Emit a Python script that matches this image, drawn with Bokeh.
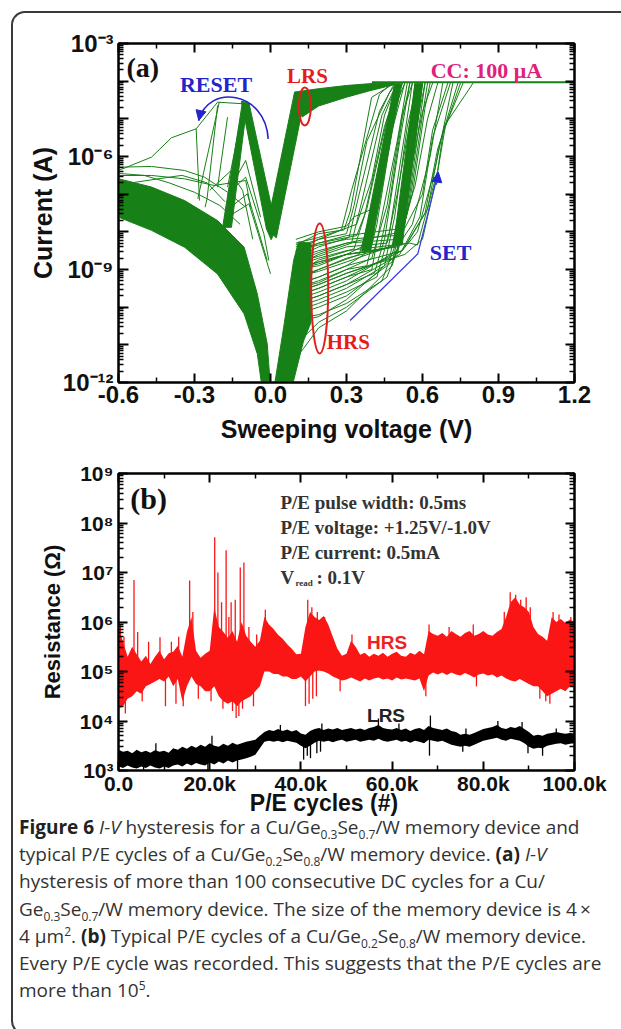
from bokeh.plotting import figure
from bokeh.models import (Range1d, FixedTicker, CustomJSTickFormatter, LinearAxis,
                          LogAxis, Div, Arrow, NormalHead)
from bokeh.layouts import column
from bokeh.core.properties import value
from bokeh.embed import file_html
from bokeh.resources import INLINE

# ====================== (a) I-V hysteresis ======================
# voltages in V, currents given as log10(I / A)
v_ticks = [-0.6, -0.3, 0.0, 0.3, 0.6, 0.9, 1.2]
v_minor = [-0.45, -0.15, 0.15, 0.45, 0.75, 1.05]
i_decades = list(range(-12, -2))

# dense HRS branch at negative bias
hrs_neg_upper_v = [-0.6, -0.47, -0.339, -0.209, -0.104, -0.052, -0.013, 0.002]
hrs_neg_upper_e = [-6.59, -6.81, -7.17, -7.70, -8.41, -9.65, -10.97, -12.3]
hrs_neg_lower_v = [-0.6, -0.47, -0.339, -0.209, -0.104, -0.052, -0.030]
hrs_neg_lower_e = [-7.61, -7.96, -8.41, -9.12, -10.18, -11.24, -12.3]

# RESET drop, LRS negative and LRS positive ribbons
reset_arm_v = [-0.189, -0.154, -0.094, -0.110]
reset_arm_e = [-7.88, -7.88, -4.69, -4.53]
lrs_neg_arm_v = [-0.115, -0.085, 0.023, 0.0025, -0.016]
lrs_neg_arm_e = [-4.53, -4.58, -7.92, -8.21, -7.92]
lrs_pos_arm_v = [-0.016, 0.095, 0.130, 0.125, 0.023]
lrs_pos_arm_e = [-7.92, -4.29, -4.38, -4.78, -8.16]
lrs_band_upper_v = [0.095, 0.19, 0.30, 0.386, 0.49]
lrs_band_upper_e = [-4.29, -4.20, -4.115, -4.07, -4.03]
lrs_band_lower_v = [0.49, 0.386, 0.30, 0.19, 0.125]
lrs_band_lower_e = [-4.09, -4.265, -4.425, -4.66, -4.95]

# dense HRS start at positive bias
hrs_pos_v = [0.0104, 0.0782, 0.1303, 0.160, 0.160, 0.1108, 0.0912, 0.0521]
hrs_pos_e = [-12.3, -12.3, -10.9, -10.4, -8.3, -8.27, -8.76, -10.53]

# dense SET ribbons
set_core1_v = [0.36, 0.395, 0.515, 0.49]
set_core1_e = [-8.5, -8.5, -4.07, -4.07]
set_core2_v = [0.485, 0.52, 0.60, 0.57]
set_core2_e = [-8.35, -8.35, -4.07, -4.07]

# compliance
cc_v = [0.40, 1.2]
cc_e = [-4.03, -4.03]

# individual SET sweeps
set_v = [
    [0.10, 0.19, 0.29, 0.315, 0.399, 0.49],
    [0.10, 0.19, 0.30, 0.33, 0.38, 0.47, 0.50],
    [0.10, 0.19, 0.31, 0.35, 0.43, 0.49],
    [0.10, 0.19, 0.32, 0.36, 0.44, 0.50],
    [0.10, 0.19, 0.33, 0.37, 0.45, 0.51],
    [0.10, 0.19, 0.34, 0.38, 0.46, 0.51],
    [0.10, 0.19, 0.35, 0.40, 0.47, 0.52],
    [0.10, 0.19, 0.30, 0.36, 0.42, 0.48, 0.52],
    [0.10, 0.19, 0.30, 0.34, 0.40, 0.45, 0.50],
    [0.10, 0.19, 0.30, 0.37, 0.43, 0.49, 0.53],
    [0.10, 0.19, 0.30, 0.38, 0.42, 0.48, 0.53],
    [0.10, 0.19, 0.30, 0.40, 0.43, 0.50, 0.54],
    [0.10, 0.19, 0.30, 0.41, 0.45, 0.51, 0.55],
    [0.10, 0.19, 0.30, 0.42, 0.47, 0.53, 0.56],
    [0.10, 0.19, 0.30, 0.44, 0.49, 0.55, 0.57],
    [0.08, 0.13, 0.19, 0.30, 0.46, 0.51, 0.56, 0.58],
    [0.07, 0.13, 0.19, 0.30, 0.48, 0.52, 0.57, 0.59],
    [0.10, 0.19, 0.30, 0.50, 0.53, 0.58, 0.60],
    [0.10, 0.19, 0.30, 0.50, 0.54, 0.59, 0.61],
    [0.10, 0.19, 0.30, 0.51, 0.55, 0.60, 0.62],
    [0.10, 0.19, 0.30, 0.52, 0.56, 0.61, 0.63],
    [0.10, 0.19, 0.30, 0.45, 0.49, 0.54, 0.58],
    [0.10, 0.19, 0.30, 0.47, 0.51, 0.56, 0.60],
    [0.10, 0.19, 0.30, 0.43, 0.47, 0.52, 0.55],
    [0.10, 0.19, 0.30, 0.46, 0.50, 0.55, 0.59],
    [0.10, 0.19, 0.30, 0.48, 0.52, 0.57, 0.61],
    [0.10, 0.19, 0.30, 0.40, 0.46, 0.52, 0.56],
    [0.10, 0.19, 0.30, 0.49, 0.53, 0.57, 0.60],
    [0.10, 0.19, 0.30, 0.50, 0.56, 0.63, 0.68],
    [0.10, 0.19, 0.30, 0.52, 0.58, 0.65, 0.72],
    [0.10, 0.19, 0.30, 0.53, 0.60, 0.66, 0.69, 0.76],
    [0.10, 0.19, 0.30, 0.55, 0.58, 0.66, 0.685, 0.80],
    [0.10, 0.19, 0.30, 0.54, 0.62, 0.67, 0.74],
    [0.10, 0.19, 0.30, 0.53, 0.60, 0.64, 0.70],
    [0.10, 0.19, 0.30, 0.50, 0.57, 0.62, 0.66],
    [0.10, 0.19, 0.30, 0.48, 0.55, 0.60, 0.64],
    [0.10, 0.19, 0.30, 0.51, 0.59, 0.64, 0.71],
    [0.10, 0.19, 0.30, 0.52, 0.61, 0.66, 0.75],
    [0.10, 0.19, 0.30, 0.33, 0.40, 0.45, 0.52],
    [0.10, 0.19, 0.28, 0.32, 0.43, 0.48],
]
set_e = [
    [-8.35, -8.05, -7.95, -7.45, -4.43, -4.05],
    [-8.5, -8.2, -8.05, -7.3, -5.6, -4.3, -4.05],
    [-8.7, -8.4, -8.15, -7.0, -4.8, -4.05],
    [-8.9, -8.6, -8.3, -7.2, -4.9, -4.05],
    [-9.1, -8.75, -8.45, -7.6, -5.2, -4.05],
    [-8.6, -8.3, -8.1, -7.4, -5.0, -4.05],
    [-9.3, -9.0, -8.6, -7.5, -5.0, -4.05],
    [-9.0, -8.9, -8.6, -8.4, -6.8, -4.6, -4.05],
    [-8.3, -8.15, -7.9, -7.8, -6.6, -4.9, -4.05],
    [-9.4, -9.2, -8.9, -8.6, -6.9, -4.7, -4.05],
    [-9.5, -9.3, -9.0, -8.9, -7.8, -5.3, -4.05],
    [-9.7, -9.5, -9.2, -9.0, -7.9, -5.6, -4.05],
    [-9.9, -9.7, -9.4, -9.1, -8.2, -5.6, -4.05],
    [-10.1, -9.9, -9.6, -9.2, -8.0, -5.4, -4.05],
    [-10.3, -10.2, -9.9, -9.3, -8.4, -5.5, -4.05],
    [-11.2, -10.8, -10.4, -10.0, -9.2, -8.3, -5.8, -4.05],
    [-11.6, -11.1, -10.55, -10.1, -8.9, -8.0, -5.5, -4.05],
    [-10.4, -10.25, -9.8, -8.6, -7.8, -5.2, -4.05],
    [-9.8, -9.6, -9.3, -8.5, -7.5, -5.0, -4.05],
    [-9.2, -9.05, -8.8, -8.3, -7.2, -4.9, -4.05],
    [-8.7, -8.5, -8.3, -8.0, -7.0, -4.7, -4.05],
    [-10.0, -9.8, -9.5, -8.9, -7.6, -5.2, -4.05],
    [-9.6, -9.4, -9.1, -8.7, -7.4, -5.0, -4.05],
    [-9.0, -8.85, -8.6, -8.5, -7.2, -5.0, -4.05],
    [-8.8, -8.65, -8.4, -8.3, -7.0, -5.1, -4.05],
    [-10.2, -10.0, -9.7, -8.8, -7.7, -5.4, -4.05],
    [-9.5, -9.35, -9.0, -8.7, -7.3, -4.9, -4.05],
    [-8.5, -8.35, -8.2, -8.1, -6.5, -4.8, -4.05],
    [-9.0, -8.8, -8.6, -8.4, -7.8, -6.0, -4.05],
    [-9.4, -9.2, -8.9, -8.5, -8.0, -6.3, -4.05],
    [-9.6, -9.4, -9.1, -8.6, -8.2, -6.4, -5.2, -4.05],
    [-8.9, -8.7, -8.5, -8.3, -8.35, -6.37, -5.2, -4.05],
    [-9.2, -9.0, -8.7, -8.3, -7.4, -5.6, -4.05],
    [-8.5, -8.3, -8.1, -7.9, -7.0, -5.3, -4.05],
    [-8.8, -8.55, -8.3, -8.2, -6.8, -5.0, -4.05],
    [-9.0, -8.8, -8.6, -8.4, -6.5, -4.8, -4.05],
    [-9.9, -9.7, -9.4, -8.6, -7.6, -5.5, -4.05],
    [-9.7, -9.5, -9.2, -8.5, -7.5, -5.8, -4.05],
    [-8.2, -8.0, -7.85, -7.6, -7.4, -6.2, -4.05],
    [-8.4, -8.2, -7.95, -6.9, -4.35, -4.05],
]

# individual stray RESET sweeps
reset_v = [
    [-0.6, -0.4696, -0.3913, -0.2935, -0.2805],
    [-0.2935, -0.2088],
    [-0.2088, -0.1044],
    [-0.2022, -0.287],
    [-0.2088, -0.2505, -0.2583],
    [-0.1696, -0.2088],
    [-0.6, -0.4696, -0.3392, -0.2609, -0.1696, -0.0979],
    [-0.6, -0.4696, -0.3392, -0.2218, -0.0979, -0.0783],
    [-0.1696, -0.0979, -0.0262, -0.0066],
    [-0.1566, -0.0914, -0.0131],
    [-0.1696, -0.0849, 0.0],
    [-0.1566, -0.0979, -0.0392],
    [-0.1044, -0.1696],
    [-0.6, -0.5, -0.4, -0.3, -0.2, -0.12],
    [-0.6, -0.45, -0.35, -0.25, -0.18],
    [-0.24, -0.16, -0.11, -0.07],
]
reset_e = [
    [-6.371, -6.017, -5.504, -5.265, -7.168],
    [-5.265, -4.557],
    [-4.557, -4.602],
    [-4.557, -7.124],
    [-4.646, -7.124, -7.345],
    [-4.955, -6.814],
    [-6.283, -6.265, -6.371, -6.548, -6.947, -7.345],
    [-6.504, -6.504, -6.593, -6.77, -6.637, -7.345],
    [-6.991, -6.548, -8.053, -8.761],
    [-7.345, -6.991, -8.761],
    [-7.61, -7.257, -9.115],
    [-6.814, -6.106, -7.61],
    [-4.602, -6.814],
    [-6.45, -6.5, -6.7, -6.95, -7.3, -7.8],
    [-6.75, -6.6, -6.5, -6.7, -7.2],
    [-6.9, -6.4, -6.9, -8.2],
]

# annotation guides
reset_arc = dict(v0=-0.0092, e0=-5.531, cv0=-0.0196, ce0=-4.248, cv1=-0.2479, ce1=-4.071, v1=-0.2831, e1=-5.044)
set_arrow_v = [0.3142, 0.5815, 0.6624]
set_arrow_e = [-10.354, -8.584, -6.416]
ellipse_v = [0.1355, 0.1942]
ellipse_e = [-4.672, -9.504]
ellipse_w = [12, 17]
ellipse_h = [38, 130]

# ====================== (b) P/E endurance ======================
cycles_k = list(range(0, 101))
hrs_hi = [5.9, 5.6, 5.3, 5.5, 5.35, 5.2, 5.32, 5.15, 5.3, 5.42,
          5.25, 5.37, 5.4, 5.52, 5.3, 5.8, 6.1, 5.42, 5.28, 5.36,
          5.42, 6.3, 5.9, 5.8, 5.68, 5.82, 5.6, 6.0, 5.72, 5.6,
          5.5, 5.62, 6.1, 5.95, 5.86, 5.74, 5.66, 5.55, 5.46, 5.35,
          5.36, 5.9, 6.2, 6.1, 6.04, 6.12, 5.95, 5.7, 5.46, 5.32,
          5.36, 5.62, 5.5, 5.34, 5.38, 5.3, 5.36, 5.32, 5.38, 5.3,
          5.36, 5.4, 5.32, 5.3, 5.38, 5.34, 5.42, 5.35, 5.82, 5.76,
          5.72, 5.78, 5.7, 5.82, 5.76, 5.7, 5.78, 5.82, 5.72, 5.76,
          5.82, 5.75, 5.72, 5.8, 5.86, 6.1, 6.4, 6.5, 6.35, 6.3,
          6.2, 5.9, 5.76, 5.7, 5.62, 6.1, 6.0, 6.06, 5.98, 6.05,
          6.0]
hrs_lo = [4.25, 4.3, 4.45, 4.5, 4.6, 4.55, 4.7, 4.75, 4.8, 4.85,
          4.8, 4.9, 4.7, 4.85, 4.4, 4.7, 4.9, 4.75, 4.7, 4.6,
          4.6, 4.7, 4.5, 4.4, 4.35, 4.4, 4.3, 4.4, 4.45, 4.5,
          4.6, 4.7, 5.0, 5.0, 4.95, 4.95, 4.9, 4.9, 4.85, 4.85,
          4.9, 4.8, 4.9, 5.0, 5.02, 5.0, 4.96, 4.9, 4.86, 4.82,
          4.84, 4.88, 4.84, 4.8, 4.86, 4.82, 4.86, 4.88, 4.84, 4.86,
          4.82, 4.88, 4.84, 4.86, 4.84, 4.82, 4.86, 4.6, 4.92, 4.98,
          4.94, 4.98, 4.93, 4.98, 4.94, 4.92, 4.97, 4.93, 4.88, 4.94,
          4.96, 4.92, 4.94, 4.88, 4.92, 4.86, 4.82, 4.8, 4.85, 4.8,
          4.75, 4.7, 4.7, 4.6, 4.5, 4.55, 4.6, 4.65, 4.6, 4.7,
          4.7]
hrs_up_k = [0.4, 1.2, 3.4, 4.2, 6.6, 9.1, 11.6, 13.2, 15.6, 16.3, 21.1, 21.8, 22.6, 23.6,
            24.2, 24.7, 25.6, 26.7, 27.5, 28.6, 30.3, 32.2, 41.5, 42.4, 43.6, 45.2, 51.2,
            68.1, 72.5, 77.8, 84.6, 85.9, 87.1, 88.2, 89.4, 90.3, 95.3, 96.6, 99.2]
hrs_up_top = [5.95, 5.7, 6.85, 5.8, 5.6, 5.69, 5.6, 5.7, 6.84, 6.2, 7.71, 7.0, 6.4, 7.45,
              6.1, 6.4, 6.45, 7.1, 7.2, 5.9, 5.75, 6.25, 6.45, 6.3, 6.2, 6.1, 5.75,
              5.95, 5.9, 5.95, 6.2, 6.6, 6.55, 6.45, 6.5, 6.3, 6.2, 6.15, 6.1]
hrs_dn_k = [1.5, 5.2, 10.3, 12.6, 14.2, 17.5, 20.3, 22.9, 25.0, 25.8, 26.4, 27.2, 29.6,
            41.0, 41.8, 42.6, 43.4, 48.6, 67.4, 78.5, 92.4, 93.7, 94.6]
hrs_dn_bot = [4.15, 4.4, 4.3, 4.35, 4.3, 4.45, 4.4, 4.25, 4.2, 4.06, 4.1, 4.25, 4.3,
              4.3, 4.35, 4.45, 4.5, 4.6, 4.5, 4.7, 4.45, 4.4, 4.35]

lrs_hi = [3.42, 3.38, 3.4, 3.35, 3.42, 3.37, 3.4, 3.36, 3.41, 3.38,
          3.4, 3.36, 3.45, 3.42, 3.48, 3.44, 3.5, 3.46, 3.52, 3.48,
          3.55, 3.5, 3.48, 3.54, 3.5, 3.56, 3.52, 3.55, 3.58, 3.6,
          3.62, 3.7, 3.78, 3.82, 3.8, 3.84, 3.8, 3.83, 3.79, 3.82,
          3.75, 3.72, 3.8, 3.84, 3.86, 3.82, 3.85, 3.83, 3.86, 3.82,
          3.84, 3.86, 3.83, 3.85, 3.82, 3.86, 3.88, 3.92, 3.86, 3.84,
          3.83, 3.86, 3.82, 3.85, 3.8, 3.84, 3.86, 3.82, 3.9, 3.86,
          3.84, 3.82, 3.85, 3.8, 3.78, 3.72, 3.74, 3.72, 3.76, 3.8,
          3.84, 3.86, 3.88, 3.92, 3.86, 3.84, 3.88, 3.86, 3.9, 3.84,
          3.78, 3.7, 3.72, 3.7, 3.74, 3.76, 3.78, 3.76, 3.74, 3.76,
          3.75]
lrs_lo = [3.08, 3.05, 3.1, 3.06, 3.04, 3.08, 3.05, 3.1, 3.06, 3.04,
          3.08, 3.05, 3.1, 3.12, 3.08, 3.14, 3.1, 3.15, 3.12, 3.1,
          3.16, 3.12, 3.18, 3.14, 3.2, 3.16, 3.2, 3.22, 3.25, 3.28,
          3.32, 3.45, 3.58, 3.6, 3.58, 3.6, 3.57, 3.6, 3.58, 3.56,
          3.5, 3.45, 3.5, 3.56, 3.6, 3.58, 3.6, 3.57, 3.6, 3.62,
          3.58, 3.6, 3.62, 3.58, 3.6, 3.62, 3.6, 3.64, 3.6, 3.58,
          3.6, 3.62, 3.58, 3.6, 3.56, 3.6, 3.58, 3.55, 3.62, 3.6,
          3.58, 3.6, 3.56, 3.52, 3.5, 3.48, 3.5, 3.48, 3.52, 3.56,
          3.6, 3.62, 3.64, 3.66, 3.62, 3.6, 3.64, 3.62, 3.6, 3.55,
          3.48, 3.44, 3.46, 3.45, 3.5, 3.52, 3.54, 3.55, 3.52, 3.54,
          3.55]
lrs_up_k = [8.2, 20.5, 35.5, 44.6, 57.0, 61.5, 68.4, 76.2, 83.2, 88.5, 96.0]
lrs_up_top = [3.55, 3.7, 3.92, 3.95, 4.05, 3.95, 4.11, 3.85, 4.0, 3.98, 3.85]
lrs_dn_k = [5.5, 19.6, 26.1, 40.6, 41.4, 42.1, 43.5, 44.3, 68.2, 75.5, 89.8, 93.0]
lrs_dn_bot = [2.98, 3.0, 3.02, 3.22, 3.3, 3.25, 3.35, 3.38, 3.3, 3.38, 3.35, 3.3]

b_x_ticks = [0, 20000, 40000, 60000, 80000, 100000]
b_x_minor = [10000, 30000, 50000, 70000, 90000]
b_x_labels = ["0.0", "20.0k", "40.0k", "60.0k", "80.0k", "100.0k"]
r_decades = list(range(3, 10))

pe_text = ["P/E pulse width: 0.5ms", "P/E voltage: +1.25V/-1.0V", "P/E current: 0.5mA"]
pe_text_e = [8.414, 7.909, 7.404]
vread_e = 6.899

caption_lines = [
    "<b>Figure 6</b> <i>I-V</i> hysteresis for a Cu/Ge<sub>0.3</sub>Se<sub>0.7</sub>/W memory device and",
    "typical P/E cycles of a Cu/Ge<sub>0.2</sub>Se<sub>0.8</sub>/W memory device. <b>(a)</b> <i>I-V</i>",
    "hysteresis of more than 100 consecutive DC cycles for a Cu/",
    "Ge<sub>0.3</sub>Se<sub>0.7</sub>/W memory device. The size of the memory device is 4\u2009\u00d7",
    "4 \u00b5m<sup>2</sup>. <b>(b)</b> Typical P/E cycles of a Cu/Ge<sub>0.2</sub>Se<sub>0.8</sub>/W memory device.",
    "Every P/E cycle was recorded. This suggests that the P/E cycles are",
    "more than 10<sup>5</sup>.",
]

# ====================== helpers ======================
GREEN = "#178017"
BLUE = "#2424cc"
RED = "#e31c1c"
MAGENTA = "#e0207c"
BRED = "#fb1616"
SANS = "Liberation Sans"
SERIF = "Liberation Serif"


def pw(es):
    return [10.0 ** e for e in es]


SUP_JS = """
const m = {"-":"\\u207b","0":"\\u2070","1":"\\u00b9","2":"\\u00b2","3":"\\u00b3","4":"\\u2074",
           "5":"\\u2075","6":"\\u2076","7":"\\u2077","8":"\\u2078","9":"\\u2079"};
const e = Math.round(Math.log10(tick));
if ((((e % STEP) + STEP) % STEP) != 0) { return ""; }
return "10" + String(e).split("").map(c => m[c]).join("");
"""


def style_axis(ax, size, tick_in=9, minor_in=5):
    ax.axis_line_width = 2
    ax.axis_line_color = "black"
    ax.major_tick_in = tick_in
    ax.major_tick_out = 0
    ax.minor_tick_in = minor_in
    ax.minor_tick_out = 0
    ax.major_tick_line_width = 2
    ax.minor_tick_line_width = 1.5
    ax.major_label_text_font = SANS
    ax.major_label_text_font_style = "bold"
    ax.major_label_text_font_size = size
    ax.major_label_text_color = "#111111"
    ax.axis_label_text_font = SANS
    ax.axis_label_text_font_style = "bold"
    ax.axis_label_text_color = "#111111"


def mirror(p, ticker, kind, side):
    ax = kind(ticker=ticker, formatter=CustomJSTickFormatter(code="return '';"))
    style_axis(ax, "0px")
    ax.major_label_standoff = 0
    p.add_layout(ax, side)


# ====================== figure (a) ======================
pa = figure(width=606, height=442, x_range=Range1d(-0.6, 1.2), y_range=Range1d(1e-12, 1e-3),
            y_axis_type="log", output_backend="svg", toolbar_location=None,
            min_border_left=105, min_border_right=43, min_border_top=30, min_border_bottom=73)
pa.background_fill_color = None
pa.border_fill_color = None
pa.outline_line_color = "black"
pa.outline_line_width = 2
pa.xgrid.visible = False
pa.ygrid.visible = False

xt_a = FixedTicker(ticks=v_ticks, minor_ticks=v_minor)
yt_a = FixedTicker(ticks=[10.0 ** e for e in i_decades],
                   minor_ticks=[m * 10.0 ** e for e in i_decades[:-1] for m in range(2, 10)])
pa.xaxis[0].ticker = xt_a
pa.xaxis[0].formatter = CustomJSTickFormatter(code="return tick.toFixed(1);")
pa.yaxis[0].ticker = yt_a
pa.yaxis[0].formatter = CustomJSTickFormatter(code=SUP_JS.replace("STEP", "3"))
style_axis(pa.xaxis[0], "24px")
style_axis(pa.yaxis[0], "24px", tick_in=10, minor_in=5)
pa.xaxis[0].major_label_standoff = 3
pa.yaxis[0].major_label_standoff = 5
pa.xaxis[0].axis_label = "Sweeping voltage (V)"
pa.yaxis[0].axis_label = "Current (A)"
pa.xaxis[0].axis_label_text_font_size = "25px"
pa.yaxis[0].axis_label_text_font_size = "25px"
pa.xaxis[0].axis_label_standoff = 9
pa.yaxis[0].axis_label_standoff = 3
mirror(pa, xt_a, LinearAxis, "above")
mirror(pa, yt_a, LogAxis, "right")

# dense regions
pa.patch(hrs_neg_upper_v + hrs_neg_lower_v[::-1], pw(hrs_neg_upper_e + hrs_neg_lower_e[::-1]),
         fill_color=GREEN, line_color=GREEN, line_width=1)
for vv, ee in [(reset_arm_v, reset_arm_e), (lrs_neg_arm_v, lrs_neg_arm_e),
               (lrs_pos_arm_v, lrs_pos_arm_e),
               (lrs_band_upper_v + lrs_band_lower_v, lrs_band_upper_e + lrs_band_lower_e),
               (hrs_pos_v, hrs_pos_e), (set_core1_v, set_core1_e), (set_core2_v, set_core2_e)]:
    pa.patch(vv, pw(ee), fill_color=GREEN, line_color=GREEN, line_width=1)

pa.multi_line(xs=set_v, ys=[pw(e) for e in set_e], line_color=GREEN, line_width=1)
pa.multi_line(xs=reset_v, ys=[pw(e) for e in reset_e], line_color=GREEN, line_width=1)
pa.line(cc_v, pw(cc_e), line_color=GREEN, line_width=2)

# guides
pa.bezier(x0=[reset_arc["v0"]], y0=pw([reset_arc["e0"]]), x1=[reset_arc["v1"]], y1=pw([reset_arc["e1"]]),
          cx0=[reset_arc["cv0"]], cy0=pw([reset_arc["ce0"]]), cx1=[reset_arc["cv1"]], cy1=pw([reset_arc["ce1"]]),
          line_color=BLUE, line_width=1.6)
pa.add_layout(Arrow(end=NormalHead(size=10, fill_color=BLUE, line_color=BLUE, line_width=1),
                    x_start=-0.277, y_start=10 ** -4.86, x_end=reset_arc["v1"], y_end=10 ** reset_arc["e1"],
                    line_color=BLUE, line_width=1.6))
pa.line(set_arrow_v, pw(set_arrow_e), line_color="#3b3be0", line_width=1.3)
pa.add_layout(Arrow(end=NormalHead(size=10, fill_color=BLUE, line_color=BLUE, line_width=1),
                    x_start=0.655, y_start=10 ** -6.75, x_end=set_arrow_v[-1], y_end=10 ** set_arrow_e[-1],
                    line_color="#3b3be0", line_width=1.3))
pa.ellipse(x=ellipse_v, y=pw(ellipse_e), width=ellipse_w, height=ellipse_h,
           width_units="screen", height_units="screen",
           fill_color=None, line_color=RED, line_width=2)

# labels
pa.text(x=[-0.5687], y=[10 ** -3.637], text=["(a)"], text_font=value(SERIF), text_font_style="bold",
        text_font_size="28px", text_color="#111111", text_baseline="middle", text_align="left")
pa.text(x=[-0.3574, 0.6285], y=pw([-4.088, -8.548]), text=["RESET", "SET"], text_font=value(SERIF),
        text_font_style="bold", text_font_size="22px", text_color=BLUE, text_baseline="middle", text_align="left")
pa.text(x=[0.0653, 0.2216], y=pw([-3.876, -10.937]), text=["LRS", "HRS"], text_font=value(SERIF),
        text_font_style="bold", text_font_size="21px", text_color=RED, text_baseline="middle", text_align="left")
pa.text(x=[0.6324], y=[10 ** -3.717], text=["CC: 100 \u03bcA"], text_font=value(SERIF),
        text_font_style="bold", text_font_size="22px", text_color=MAGENTA, text_baseline="middle", text_align="left")

# ====================== figure (b) ======================
pb = figure(width=606, height=342, x_range=Range1d(0, 100000), y_range=Range1d(1e3, 1e9),
            y_axis_type="log", output_backend="svg", toolbar_location=None,
            min_border_left=102, min_border_right=45, min_border_top=18, min_border_bottom=27)
pb.background_fill_color = None
pb.border_fill_color = None
pb.outline_line_color = "black"
pb.outline_line_width = 2
pb.xgrid.visible = False
pb.ygrid.visible = False

xt_b = FixedTicker(ticks=b_x_ticks, minor_ticks=b_x_minor)
yt_b = FixedTicker(ticks=[10.0 ** e for e in r_decades],
                   minor_ticks=[m * 10.0 ** e for e in r_decades[:-1] for m in range(2, 10)])
pb.xaxis[0].ticker = xt_b
pb.xaxis[0].major_label_overrides = {t: s for t, s in zip(b_x_ticks, b_x_labels)}
pb.yaxis[0].ticker = yt_b
pb.yaxis[0].formatter = CustomJSTickFormatter(code=SUP_JS.replace("STEP", "1"))
style_axis(pb.xaxis[0], "21px")
style_axis(pb.yaxis[0], "21px", tick_in=9, minor_in=5)
pb.xaxis[0].major_label_standoff = 1
pb.yaxis[0].major_label_standoff = 5
pb.yaxis[0].axis_label = "Resistance (\u03a9)"
pb.yaxis[0].axis_label_text_font_size = "22px"
pb.yaxis[0].axis_label_standoff = 12
mirror(pb, xt_b, LinearAxis, "above")
mirror(pb, yt_b, LogAxis, "right")

cyc = [k * 1000 for k in cycles_k]
pb.varea(x=cyc, y1=pw(hrs_lo), y2=pw(hrs_hi), fill_color=BRED)
pb.varea(x=cyc, y1=pw(lrs_lo), y2=pw(lrs_hi), fill_color="#000000")


def mid(lo, hi, k):
    i = int(round(k))
    return (lo[i] + hi[i]) / 2.0


for ks, ends, lo, hi, col in [(hrs_up_k, hrs_up_top, hrs_lo, hrs_hi, BRED),
                              (hrs_dn_k, hrs_dn_bot, hrs_lo, hrs_hi, BRED),
                              (lrs_up_k, lrs_up_top, lrs_lo, lrs_hi, "#000000"),
                              (lrs_dn_k, lrs_dn_bot, lrs_lo, lrs_hi, "#000000")]:
    xs = [k * 1000 for k in ks]
    pb.segment(x0=xs, y0=pw([mid(lo, hi, k) for k in ks]), x1=xs, y1=pw(ends),
               line_color=col, line_width=1.3)

pb.text(x=[2600], y=[10 ** 8.495], text=["(b)"], text_font=value(SERIF), text_font_style="bold",
        text_font_size="30px", text_color="#111111", text_baseline="middle", text_align="left")
pb.text(x=[35500] * 3, y=pw(pe_text_e), text=pe_text, text_font=value(SERIF), text_font_style="bold",
        text_font_size="19px", text_color="#333333", text_baseline="alphabetic", text_align="left")
pb.text(x=[35500], y=[10 ** vread_e], text=["V"], text_font=value(SERIF), text_font_style="bold",
        text_font_size="19px", text_color="#333333", text_baseline="alphabetic", text_align="left")
pb.text(x=[35500], y=[10 ** vread_e], text=["read"], x_offset=15, y_offset=6, text_font=value(SERIF),
        text_font_style="bold", text_font_size="9px", text_color="#333333", text_baseline="alphabetic",
        text_align="left")
pb.text(x=[35500], y=[10 ** vread_e], text=[": 0.1V"], x_offset=36, text_font=value(SERIF),
        text_font_style="bold", text_font_size="19px", text_color="#333333", text_baseline="alphabetic",
        text_align="left")
pb.text(x=[54500], y=[10 ** 5.586], text=["HRS"], text_font=value(SANS), text_font_style="bold",
        text_font_size="19px", text_color="#ee2222", text_baseline="alphabetic", text_align="left")
pb.text(x=[54500], y=[10 ** 4.11], text=["LRS"], text_font=value(SANS), text_font_style="bold",
        text_font_size="19px", text_color="#222222", text_baseline="alphabetic", text_align="left")

# ====================== caption (with the x-axis title of panel b) ======================
cap_html = (
    "<style>sub,sup{font-size:12px;line-height:0;} b{font-weight:700;color:#222;}</style>"
    "<div style='position:relative;width:600px;height:220px;'>"
    "<div style=\"position:absolute;left:206px;top:-6px;width:200px;text-align:center;"
    "font-family:'Liberation Sans';font-weight:bold;font-size:23px;line-height:14px;color:#111;"
    "white-space:nowrap;\">P/E cycles (#)</div>"
    "<div style=\"position:absolute;left:1px;top:12px;font-family:'Open Sans';font-size:19px;"
    "line-height:27.2px;color:#333;white-space:nowrap;\">" + "<br>".join(caption_lines) + "</div>"
    "</div>"
)
cap = Div(text=cap_html, width=606, height=226)

root = column(pa, pb, cap, styles={
    "margin-left": "11px", "margin-top": "11px",
    "border-top": "2px solid #3a3a3a", "border-left": "2px solid #3a3a3a",
    "border-bottom": "2px solid #3a3a3a",
    "border-top-left-radius": "14px", "border-bottom-left-radius": "14px",
})

open("out.html", "w").write(file_html(root, INLINE, "Figure 6"))
